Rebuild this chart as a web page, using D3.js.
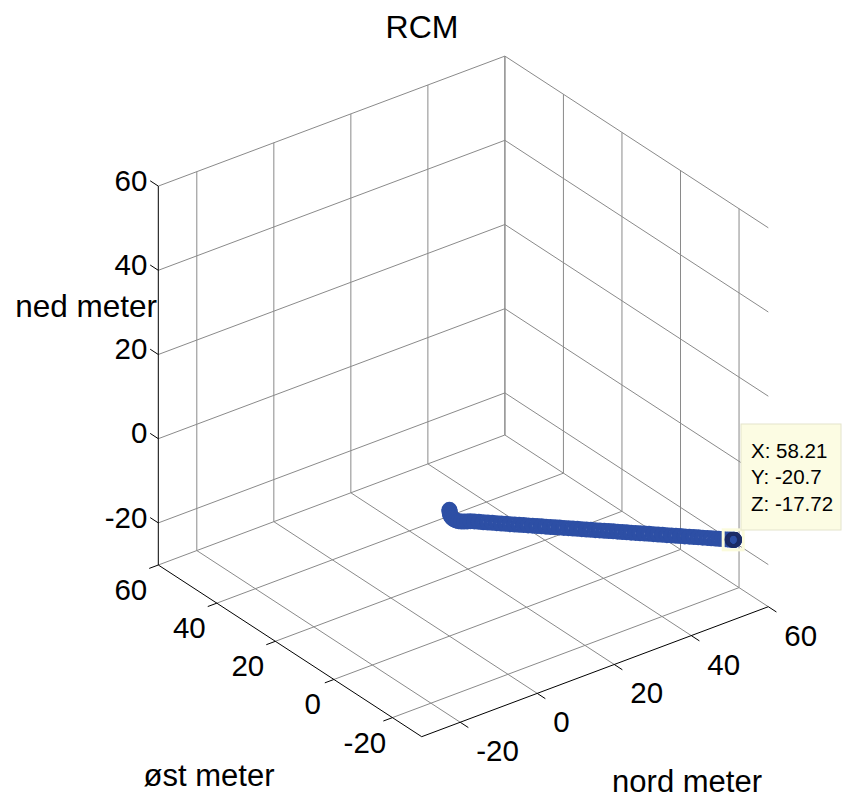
<!DOCTYPE html>
<html>
<head>
<meta charset="utf-8">
<script src="https://cdn.jsdelivr.net/npm/d3@7"></script>
<style>
  html, body { margin: 0; padding: 0; background: #fff; }
  svg { display: block; }
  text { font-family: "Liberation Sans", Arial, Helvetica, sans-serif; fill: #000; }
</style>
</head>
<body>
<div id="chart"></div>
<script>
// ---------------- data ----------------
const title = "RCM";
const xLabel = "nord meter";
const yLabel = "øst meter";
const zLabel = "ned meter";

const xDomain = [-30, 60];
const yDomain = [-30, 60];
const zDomain = [-30, 60];

const xTicks = [-20, 0, 20, 40, 60];
const yTicks = [-20, 0, 20, 40, 60];
const zTicks = [-20, 0, 20, 40, 60];

// trajectory (nord = X, øst = Y, ned = Z)
const nord = [0, 0.02, 0.06, 0.12, 0.25, 0.45, 0.75, 1.15, 1.65, 2.25, 2.95, 3.7, 4.45, 5.2,
  6.0, 6.9, 7.8, 8.7, 9.6, 10.5, 11.4, 12.3, 13.2, 14.1, 15.0, 15.9, 16.8, 17.7, 18.6, 19.5,
  20.4, 21.3, 22.2, 23.1, 24.0, 24.9, 25.8, 26.7, 27.6, 28.5, 29.4, 30.3, 31.2, 32.1, 33.0,
  33.9, 34.8, 35.7, 36.6, 37.5, 38.4, 39.3, 40.2, 41.1, 42.0, 42.9, 43.8, 44.7, 45.6, 46.5,
  47.4, 48.3, 49.2, 50.1, 51.0, 51.9, 52.8, 53.6, 54.4, 55.1, 55.8, 56.4, 56.9, 57.3, 57.6,
  57.85, 58.0, 58.1, 58.16, 58.19, 58.21];
const ost = [0, 0.01, 0.02, 0.03, 0.03, 0.02, 0.0, -0.03, -0.07, -0.12, -0.17, -0.22, -0.27, -0.32,
  -0.63, -0.97, -1.32, -1.67, -2.01, -2.36, -2.70, -3.05, -3.40, -3.74, -4.09, -4.43, -4.78, -5.13, -5.47, -5.82,
  -6.16, -6.51, -6.86, -7.20, -7.55, -7.89, -8.24, -8.59, -8.93, -9.28, -9.62, -9.97, -10.32, -10.66, -11.01,
  -11.35, -11.70, -12.05, -12.39, -12.74, -13.09, -13.43, -13.78, -14.12, -14.47, -14.82, -15.16, -15.51, -15.85, -16.20,
  -16.55, -16.89, -17.24, -17.58, -17.93, -18.28, -18.62, -18.93, -19.24, -19.51, -19.78, -20.01, -20.20, -20.35, -20.47,
  -20.56, -20.62, -20.66, -20.68, -20.69, -20.70];
const ned = [0, -0.25, -0.55, -0.9, -1.3, -1.75, -2.2, -2.65, -3.05, -3.4, -3.7, -3.95, -4.15, -4.33,
  -4.53, -4.78, -5.02, -5.25, -5.46, -5.70, -5.93, -6.16, -6.40, -6.62, -6.85, -7.08, -7.30, -7.52, -7.75, -7.98,
  -8.21, -8.43, -8.66, -8.88, -9.10, -9.33, -9.56, -9.79, -10.02, -10.25, -10.47, -10.70, -10.92, -11.15, -11.38,
  -11.60, -11.83, -12.06, -12.28, -12.51, -12.73, -12.96, -13.18, -13.41, -13.64, -13.86, -14.09, -14.32, -14.55, -14.77,
  -15.00, -15.23, -15.45, -15.68, -15.90, -16.13, -16.35, -16.56, -16.76, -16.93, -17.11, -17.26, -17.39, -17.49, -17.56,
  -17.63, -17.67, -17.69, -17.71, -17.72, -17.72];

// ---------------- layout ----------------
const W = 842, H = 800;
const svg = d3.select("#chart").append("svg").attr("width", W).attr("height", H);

// normalized scales (0..1 along each box edge)
const xS = d3.scaleLinear().domain(xDomain).range([0, 1]);
const yS = d3.scaleLinear().domain(yDomain).range([0, 1]);
const zS = d3.scaleLinear().domain(zDomain).range([0, 1]);

// screen-space projection of the box (view from MATLAB-like camera)
const O = [421.7, 736.7];      // (x=-30, y=-30, z=-30)
const ex = [346.6, -130.0];    // full x range
const ey = [-263.4, -171.7];   // full y range
const ez = [0, -378.9];        // full z range
function P(x, y, z) {
  const a = xS(x), b = yS(y), c = zS(z);
  return [O[0] + ex[0] * a + ey[0] * b + ez[0] * c,
          O[1] + ex[1] * a + ey[1] * b + ez[1] * c];
}

const x0 = xDomain[0], x1 = xDomain[1];
const y0 = yDomain[0], y1 = yDomain[1];
const z0 = zDomain[0], z1 = zDomain[1];

const gridCol = "#8a8a8a";
const g = svg.append("g");
function seg(p, q, col, w) {
  g.append("line").attr("x1", p[0]).attr("y1", p[1]).attr("x2", q[0]).attr("y2", q[1])
    .attr("stroke", col).attr("stroke-width", w);
}

// back wall y = y1 (x-z plane)
xTicks.forEach(t => seg(P(t, y1, z0), P(t, y1, z1), gridCol, 1));
zTicks.forEach(t => seg(P(x0, y1, t), P(x1, y1, t), gridCol, 1));
// back wall x = x1 (y-z plane)
yTicks.forEach(t => seg(P(x1, t, z0), P(x1, t, z1), gridCol, 1));
zTicks.forEach(t => seg(P(x1, y1, t), P(x1, y0, t), gridCol, 1));
// floor z = z0
xTicks.forEach(t => seg(P(t, y1, z0), P(t, y0, z0), gridCol, 1));
yTicks.forEach(t => seg(P(x0, t, z0), P(x1, t, z0), gridCol, 1));

// axis lines
seg(P(x0, y0, z0), P(x1, y0, z0), "#000", 1);   // x (nord)
seg(P(x0, y0, z0), P(x0, y1, z0), "#000", 1);   // y (øst)
seg(P(x0, y1, z0), P(x0, y1, z1), "#000", 1);   // z (ned)

// ticks
const tickLen = 9.7;
function unit(v) { const l = Math.hypot(v[0], v[1]); return [v[0] / l, v[1] / l]; }
const dNegY = unit([-ey[0], -ey[1]]);
const dNegX = unit([-ex[0], -ex[1]]);
const dPosY = unit([ey[0], ey[1]]);
const fsTick = 29.5;

xTicks.forEach(t => {
  const p = P(t, y0, z0);
  seg(p, [p[0] + dNegY[0] * tickLen, p[1] + dNegY[1] * tickLen], "#000", 1);
  svg.append("text").attr("x", p[0] + 16).attr("y", p[1] + 39)
    .attr("font-size", fsTick).attr("text-anchor", "start").text(t);
});
yTicks.forEach(t => {
  const p = P(x0, t, z0);
  seg(p, [p[0] + dNegX[0] * tickLen, p[1] + dNegX[1] * tickLen], "#000", 1);
  const tx = svg.append("text").attr("y", p[1] + 35)
    .attr("font-size", fsTick).attr("text-anchor", "middle").text(t);
  const w = tx.node().getComputedTextLength();
  tx.attr("x", p[0] - Math.min(27.5, 13 + w / 2));
});
zTicks.forEach(t => {
  const p = P(x0, y1, t);
  seg(p, [p[0] + dPosY[0] * tickLen, p[1] + dPosY[1] * tickLen], "#000", 1);
  svg.append("text").attr("x", p[0] - 11).attr("y", p[1] + 4.6)
    .attr("font-size", fsTick).attr("text-anchor", "end").text(t);
});

// axis labels & title
svg.append("text").attr("x", 422).attr("y", 38).attr("font-size", 32)
  .attr("text-anchor", "middle").text(title);
svg.append("text").attr("x", 157).attr("y", 317).attr("font-size", 31.5)
  .attr("text-anchor", "end").text(zLabel);
svg.append("text").attr("x", 209).attr("y", 786).attr("font-size", 31)
  .attr("text-anchor", "middle").text(yLabel);
svg.append("text").attr("x", 762).attr("y", 792).attr("font-size", 31)
  .attr("text-anchor", "end").text(xLabel);

// trajectory markers
const pts = nord.map((v, i) => ({ x: v, y: ost[i], z: ned[i] }));
const mcol = "#2d4fa5";
svg.append("g").selectAll("circle").data(pts).join("circle")
  .attr("cx", d => P(d.x, d.y, d.z)[0])
  .attr("cy", d => P(d.x, d.y, d.z)[1])
  .attr("r", 6.2)
  .attr("fill", "none")
  .attr("stroke", mcol)
  .attr("stroke-width", 3.6);

// data tip
const last = pts[pts.length - 1];
const lp = P(last.x, last.y, last.z);
svg.append("rect").attr("x", lp[0] - 11).attr("y", lp[1] - 10).attr("width", 20).attr("height", 20)
  .attr("fill", "none").attr("stroke", "#fbfbdc").attr("stroke-width", 3);
svg.append("g").selectAll("circle").data(pts.slice(-6)).join("circle")
  .attr("cx", d => P(d.x, d.y, d.z)[0])
  .attr("cy", d => P(d.x, d.y, d.z)[1])
  .attr("r", 6.2).attr("fill", "none")
  .attr("stroke", "#1c2c66").attr("stroke-width", 3.2);

const tipG = svg.append("g");
tipG.append("rect").attr("x", 741).attr("y", 424).attr("width", 100).attr("height", 106)
  .attr("fill", "#fcfce3").attr("stroke", "#e4e4cc").attr("stroke-width", 1);
const fmt = v => String(+v.toFixed(2));
const tipLines = ["X: " + fmt(last.x), "Y: " + fmt(last.y), "Z: " + fmt(last.z)];
tipLines.forEach((s, i) => {
  tipG.append("text").attr("x", 751).attr("y", 457.5 + i * 26.7)
    .attr("font-size", 20.5).text(s);
});
</script>
</body>
</html>
